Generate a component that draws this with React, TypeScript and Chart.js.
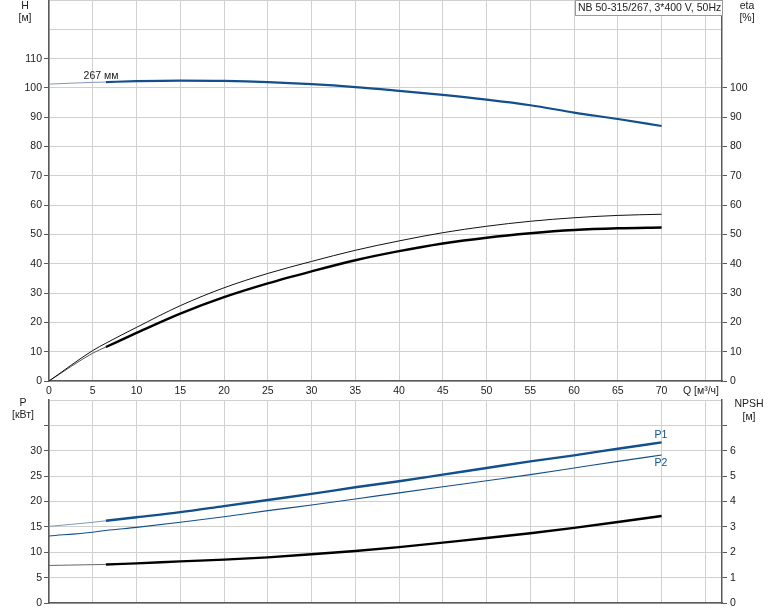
import React, { useEffect, useRef } from "react";
import { Chart, registerables } from "chart.js";
Chart.register(...registerables);

// ---- data ----
const Q = [0, 5, 6.5, 10, 15, 20, 25, 30, 35, 40, 45, 50, 55, 60, 65, 70];
const H = [101.3, 101.9, 102.0, 102.3, 102.5, 102.4, 102.0, 101.3, 100.3, 99.0, 97.6, 96.0, 94.1, 91.6, 89.4, 87.0];
const ETA_UPPER = [0, 10.4, 12.9, 18.3, 25.7, 31.8, 36.7, 40.8, 44.6, 47.8, 50.6, 52.8, 54.5, 55.7, 56.5, 56.9];
const ETA_LOWER = [0, 9.5, 11.6, 16.4, 23.0, 28.6, 33.3, 37.4, 41.2, 44.3, 46.9, 48.9, 50.4, 51.5, 52.1, 52.4];
const P1 = [15.1, 15.9, 16.2, 16.9, 17.9, 19.1, 20.3, 21.5, 22.8, 24.0, 25.3, 26.6, 27.9, 29.1, 30.4, 31.65];
const P2 = [13.2, 13.95, 14.3, 14.9, 15.9, 17.0, 18.2, 19.3, 20.5, 21.7, 22.9, 24.1, 25.3, 26.6, 27.9, 29.15];
const NPSH = [1.48, 1.51, 1.52, 1.56, 1.64, 1.71, 1.8, 1.92, 2.05, 2.2, 2.38, 2.56, 2.75, 2.96, 3.19, 3.43];
const DUTY_START = 6.5;

const Q_TICKS = [0, 5, 10, 15, 20, 25, 30, 35, 40, 45, 50, 55, 60, 65, 70, 75];
const Q_LABEL_MAX = 70;
const Q_MAX = 76.9;
const H_TICKS = [0, 10, 20, 30, 40, 50, 60, 70, 80, 90, 100, 110, 120, 130];
const H_LABEL_MAX = 110;
const ETA_LABEL_MAX = 100;
const P_TICKS = [0, 5, 10, 15, 20, 25, 30, 35, 40];
const P_LABEL_MAX = 30;
const NPSH_TICKS = [0, 1, 2, 3, 4, 5, 6, 7, 8];
const NPSH_LABEL_MAX = 6;

const TITLE = "NB 50-315/267, 3*400 V, 50Hz";
const CURVE_LABEL = "267 мм";

// ---- styles ----
const FONT_FAMILY = "'Liberation Sans', Arial, sans-serif";
const FONT_SIZE = 10.5;
const TEXT = "#222";
const AXIS = "#5a5a5a";
const GRID = "#d0d0d0";
const BLUE = "#124f8c";
const BLUE_THIN = "#7f98bd";
const TRANSPARENT = "rgba(0,0,0,0)";

const pts = (ys: number[], from = -Infinity, to = Infinity) =>
  Q.map((q, i) => ({ x: q, y: ys[i] })).filter((p) => p.x >= from && p.x <= to);

const line = (data: any[], color: string, width: number, yAxisID: string) => ({
  type: "line" as const,
  data,
  borderColor: color,
  borderWidth: width,
  pointRadius: 0,
  fill: false,
  cubicInterpolationMode: "monotone" as const,
  yAxisID,
});

type Txt = { t: string; x: number; y: number; align?: CanvasTextAlign; color?: string };
const textPlugin = (items: Txt[], box?: boolean) => ({
  id: "texts",
  afterDraw(chart: any) {
    const ctx: CanvasRenderingContext2D = chart.ctx;
    ctx.save();
    ctx.font = `${FONT_SIZE}px ${FONT_FAMILY}`;
    ctx.textBaseline = "middle";
    if (box) {
      ctx.fillStyle = "#fff";
      ctx.fillRect(575.5, 0.5, 147, 15);
      ctx.strokeStyle = "#9a9a9a";
      ctx.lineWidth = 1;
      ctx.strokeRect(575.5, 0.5, 147, 15);
      ctx.fillStyle = TEXT;
      ctx.textAlign = "left";
      ctx.fillText(TITLE, 578, 8.5);
    }
    for (const it of items) {
      ctx.fillStyle = it.color || TEXT;
      ctx.textAlign = it.align || "center";
      ctx.fillText(it.t, it.x, it.y);
    }
    ctx.restore();
  },
});

const font = { family: FONT_FAMILY, size: FONT_SIZE };

const xScale = (showLabels: boolean, height: number) => ({
  type: "linear" as const,
  min: 0,
  max: Q_MAX,
  afterBuildTicks: (s: any) => {
    s.ticks = Q_TICKS.map((v) => ({ value: v }));
  },
  afterFit: (s: any) => {
    s.height = height;
    s.paddingLeft = 0;
    s.paddingRight = 0;
    s.paddingTop = 0;
    s.paddingBottom = 0;
  },
  ticks: {
    display: showLabels,
    autoSkip: false,
    maxRotation: 0,
    padding: 4,
    font,
    color: TEXT,
    callback: (v: any) => (v <= Q_LABEL_MAX ? String(v) : ""),
  },
  grid: { color: GRID, lineWidth: 1, drawTicks: false },
  border: { color: AXIS, width: 1.5 },
});

const yScale = (
  position: "left" | "right",
  max: number,
  ticks: number[],
  labelMax: number,
  tickMax: number,
  width: number,
  drawGrid: boolean
) => ({
  type: "linear" as const,
  position,
  min: 0,
  max,
  afterBuildTicks: (s: any) => {
    s.ticks = ticks.map((v) => ({ value: v }));
  },
  afterFit: (s: any) => {
    s.width = width;
    s.paddingTop = 0;
    s.paddingBottom = 0;
    s.paddingLeft = 0;
    s.paddingRight = 0;
  },
  ticks: {
    autoSkip: false,
    padding: position === "left" ? 2 : 3,
    font,
    color: TEXT,
    callback: (v: any) => (v <= labelMax ? String(v) : ""),
  },
  grid: {
    drawOnChartArea: drawGrid,
    color: GRID,
    lineWidth: 1,
    tickLength: 5,
    tickColor: (c: any) => (c.tick && c.tick.value > tickMax ? TRANSPARENT : AXIS),
  },
  border: { color: AXIS, width: 1.5 },
});

export default function App() {
  const topRef = useRef<HTMLCanvasElement>(null);
  const botRef = useRef<HTMLCanvasElement>(null);

  useEffect(() => {
    const common = {
      responsive: false,
      maintainAspectRatio: false,
      animation: false as const,
      events: [] as any[],
      plugins: { legend: { display: false }, tooltip: { enabled: false } },
    };

    const top = new Chart(topRef.current!, {
      type: "line",
      data: {
        datasets: [
          line(pts(H, -Infinity, DUTY_START), BLUE_THIN, 1, "y"),
          line(pts(H, DUTY_START), BLUE, 2.2, "y"),
          line(pts(ETA_UPPER), "#111", 1, "eta"),
          line(pts(ETA_LOWER, -Infinity, DUTY_START), "#555", 1, "eta"),
          line(pts(ETA_LOWER, DUTY_START), "#000", 2.4, "eta"),
        ] as any,
      },
      options: {
        ...common,
        layout: { padding: 0 },
        scales: {
          x: xScale(true, 17),
          y: yScale("left", 130, H_TICKS, H_LABEL_MAX, H_LABEL_MAX, 49, true),
          eta: yScale("right", 130, H_TICKS, ETA_LABEL_MAX, ETA_LABEL_MAX, 52, false),
        },
      } as any,
      plugins: [
        textPlugin(
          [
            { t: "H", x: 25, y: 6 },
            { t: "[м]", x: 25, y: 18 },
            { t: "eta", x: 747, y: 6 },
            { t: "[%]", x: 747, y: 18 },
            { t: CURVE_LABEL, x: 101, y: 76 },
            { t: "Q [м³/ч]", x: 719, y: 391, align: "right" },
          ],
          true
        ),
      ],
    });

    const bot = new Chart(botRef.current!, {
      type: "line",
      data: {
        datasets: [
          line(pts(P1, -Infinity, DUTY_START), BLUE_THIN, 1, "y"),
          line(pts(P1, DUTY_START), BLUE, 2.4, "y"),
          line(pts(P2), BLUE, 1.1, "y"),
          line(pts(NPSH, -Infinity, DUTY_START), "#666", 1, "npsh"),
          line(pts(NPSH, DUTY_START), "#000", 2.4, "npsh"),
        ] as any,
      },
      options: {
        ...common,
        layout: { padding: { top: 2, left: 0, right: 0, bottom: 0 } },
        scales: {
          x: xScale(false, 8),
          y: yScale("left", 40, P_TICKS, P_LABEL_MAX, 35, 49, true),
          npsh: yScale("right", 8, NPSH_TICKS, NPSH_LABEL_MAX, 7, 52, false),
        },
      } as any,
      plugins: [
        textPlugin([
          { t: "P", x: 23, y: 5 },
          { t: "[кВт]", x: 23, y: 17 },
          { t: "NPSH", x: 749, y: 6 },
          { t: "[м]", x: 749, y: 19 },
          { t: "P1", x: 661, y: 37, color: BLUE },
          { t: "P2", x: 661, y: 65, color: BLUE },
        ]),
      ],
    });

    return () => {
      top.destroy();
      bot.destroy();
    };
  }, []);

  return (
    <div style={{ position: "absolute", left: 0, top: 0, width: 774, height: 611, background: "#fff" }}>
      <canvas ref={topRef} width={774} height={398} style={{ position: "absolute", left: 0, top: 0 }} />
      <canvas ref={botRef} width={774} height={213} style={{ position: "absolute", left: 0, top: 398 }} />
    </div>
  );
}
